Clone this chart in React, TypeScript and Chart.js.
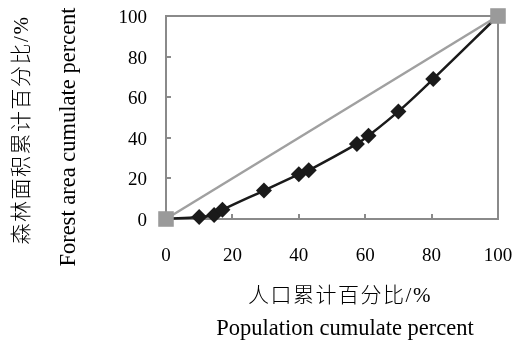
import React, { useEffect, useRef } from "react";
import { Chart, registerables } from "chart.js";

Chart.register(...registerables);

const popCum = [0, 10, 14.5, 17, 29.5, 40, 43, 57.5, 61, 70, 80.5, 100];
const forestCum = [0, 1, 2, 4.5, 14, 22, 24, 37, 41, 53, 69, 100];
const equalX = [0, 100];
const equalY = [0, 100];
const tickValues = [0, 20, 40, 60, 80, 100];

const yTitleZh = "森林面积累计百分比/%";
const yTitleEn = "Forest area cumulate percent";
const xTitleZh = "人口累计百分比/%";
const xTitleEn = "Population cumulate percent";

const SERIF = '"Liberation Serif", "Times New Roman", "Noto Sans CJK SC", serif';
const AXIS_GRAY = "#8a8a8a";

const titlePlugin = {
  id: "axisTitles",
  afterDraw(chart: any) {
    const ctx = chart.ctx as CanvasRenderingContext2D;
    ctx.save();
    ctx.fillStyle = "#000";
    ctx.textAlign = "center";
    const draw = (
      text: string,
      font: string,
      spacing: string,
      baseline: CanvasTextBaseline,
      x: number,
      y: number,
      rot: number
    ) => {
      ctx.save();
      ctx.translate(x, y);
      ctx.rotate(rot);
      ctx.font = font;
      ctx.textBaseline = baseline;
      (ctx as any).letterSpacing = spacing;
      ctx.fillText(text, 0, 0);
      ctx.restore();
    };
    draw(yTitleZh, "300 21px " + SERIF, "1.5px", "middle", 22, 130, -Math.PI / 2);
    draw(yTitleEn, "22.5px " + SERIF, "0px", "alphabetic", 75, 137, -Math.PI / 2);
    draw(xTitleZh, "300 21px " + SERIF, "1.5px", "middle", 340, 296, 0);
    draw(xTitleEn, "22.5px " + SERIF, "0px", "alphabetic", 345, 335, 0);
    ctx.restore();
  },
};

export default function App() {
  const ref = useRef<HTMLCanvasElement | null>(null);

  useEffect(() => {
    if (!ref.current) return;
    const lorenz = popCum.map((x, i) => ({ x, y: forestCum[i] }));
    const equal = equalX.map((x, i) => ({ x, y: equalY[i] }));
    const last = popCum.length - 1;
    const tickFont = { family: SERIF, size: 19 };
    const gridColor = (c: any) => (c.tick && c.tick.value === 100 ? AXIS_GRAY : "rgba(0,0,0,0)");
    const zeroPad = (s: any) => {
      s.paddingTop = 0;
      s.paddingBottom = 0;
      s.paddingLeft = 0;
      s.paddingRight = 0;
    };
    const chart = new Chart(ref.current, {
      type: "scatter",
      data: {
        datasets: [
          {
            label: "equal",
            data: equal,
            showLine: true,
            borderColor: "#a0a0a0",
            backgroundColor: "#9a9a9a",
            borderWidth: 2.5,
            pointStyle: "rect",
            pointRadius: 11,
            pointBorderWidth: 0,
            order: 0,
            clip: false,
          } as any,
          {
            label: "lorenz",
            data: lorenz,
            showLine: true,
            borderColor: "#1a1a1a",
            backgroundColor: "#1a1a1a",
            borderWidth: 2.5,
            tension: 0.4,
            pointStyle: "rectRot",
            pointRadius: (c: any) => (c.dataIndex === 0 || c.dataIndex === last ? 0 : 8),
            pointBorderWidth: 0,
            order: 1,
            clip: false,
          } as any,
        ],
      },
      options: {
        animation: false,
        responsive: false,
        layout: { padding: { top: 16, right: 23, left: 0, bottom: 0 }, autoPadding: false },
        plugins: { legend: { display: false }, tooltip: { enabled: false } },
        scales: {
          x: {
            type: "linear",
            min: 0,
            max: 100,
            afterFit: (s: any) => {
              s.height = 126;
              zeroPad(s);
            },
            afterBuildTicks: (s: any) => {
              s.ticks = tickValues.map((v) => ({ value: v }));
            },
            ticks: { font: tickFont, color: "#000", padding: 31, maxRotation: 0 },
            grid: { color: gridColor, tickColor: AXIS_GRAY, tickLength: -5, lineWidth: 2 },
            border: { color: AXIS_GRAY, width: 2 },
          },
          y: {
            type: "linear",
            min: 0,
            max: 100,
            afterFit: (s: any) => {
              s.width = 166;
              zeroPad(s);
            },
            afterBuildTicks: (s: any) => {
              s.ticks = tickValues.map((v) => ({ value: v }));
            },
            ticks: { font: tickFont, color: "#000", padding: 24, labelOffset: 2 },
            grid: { color: gridColor, tickColor: AXIS_GRAY, tickLength: -5, lineWidth: 2 },
            border: { color: AXIS_GRAY, width: 2 },
          },
        },
      } as any,
      plugins: [titlePlugin],
    });
    return () => chart.destroy();
  }, []);

  return (
    <div style={{ position: "absolute", left: 0, top: 0, width: 521, height: 345, background: "#fff" }}>
      <canvas ref={ref} width={521} height={345} style={{ display: "block" }} />
    </div>
  );
}
